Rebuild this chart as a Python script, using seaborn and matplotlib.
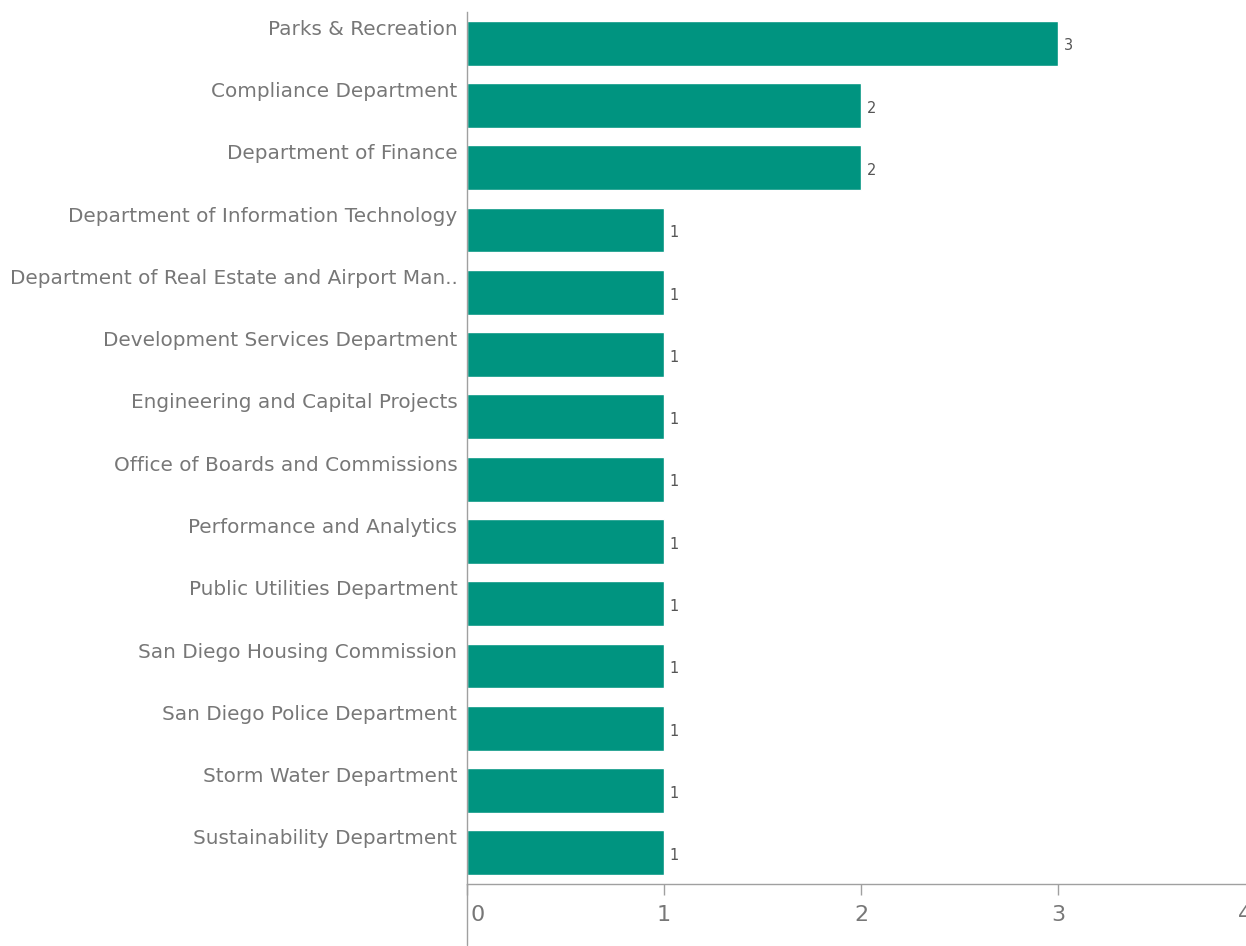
import matplotlib
matplotlib.use("Agg")
import matplotlib.pyplot as plt
import matplotlib.transforms as mtransforms
import seaborn as sns
import pandas as pd

departments = [
    "Parks & Recreation",
    "Compliance Department",
    "Department of Finance",
    "Department of Information Technology",
    "Department of Real Estate and Airport Man..",
    "Development Services Department",
    "Engineering and Capital Projects",
    "Office of Boards and Commissions",
    "Performance and Analytics",
    "Public Utilities Department",
    "San Diego Housing Commission",
    "San Diego Police Department",
    "Storm Water Department",
    "Sustainability Department",
]
counts = [3, 2, 2, 1, 1, 1, 1, 1, 1, 1, 1, 1, 1, 1]
x_ticks = [0, 1, 2, 3, 4]

df = pd.DataFrame({"dept": departments, "count": counts})

sns.set_style("white")
plt.rcParams["font.family"] = ["DejaVu Sans"]

W, H = 1246, 946
fig = plt.figure(figsize=(W / 100, H / 100), dpi=100)
ax_left = 467 / W
ax_right = 1255 / W
ax_bottom = (H - 884) / H
ax_top = (H - 12) / H
ax = fig.add_axes([ax_left, ax_bottom, ax_right - ax_left, ax_top - ax_bottom])

sns.barplot(data=df, y="dept", x="count", orient="h", color="#009480",
            saturation=1, width=0.72, ax=ax)

ax.set_xlim(0, 4)
ax.set_ylim(len(departments) - 0.5, -0.5)
ax.set_xlabel("")
ax.set_ylabel("")
ax.set_xticks(x_ticks)
ax.set_xticklabels([str(t) for t in x_ticks], fontsize=16, color="#777777")

for s in ["top", "right"]:
    ax.spines[s].set_visible(False)
for s in ["left", "bottom"]:
    ax.spines[s].set_color("#a0a0a0")
    ax.spines[s].set_linewidth(1.0)

ax.tick_params(axis="x", length=8, width=1, color="#a0a0a0", pad=7,
               direction="out", bottom=True)
ax.tick_params(axis="y", length=0, pad=7, labelsize=14.4, labelcolor="#777777")

# shift y tick labels upward so they align with top of bars
offset = mtransforms.ScaledTranslation(0, 16 / 100, fig.dpi_scale_trans)
for lbl in ax.get_yticklabels():
    lbl.set_transform(lbl.get_transform() + offset)

# first x tick label left-aligned, last one pulled inside the figure
xlbls = ax.get_xticklabels()
xlbls[0].set_ha("left")
xlbls[0].set_transform(xlbls[0].get_transform() +
                       mtransforms.ScaledTranslation(3 / 100, 0, fig.dpi_scale_trans))
xlbls[-1].set_transform(xlbls[-1].get_transform() +
                        mtransforms.ScaledTranslation(-10 / 100, 0, fig.dpi_scale_trans))

# extend left spine below x axis
ax.plot([0, 0], [0, -(945 - 884) / (884 - 12)], transform=ax.transAxes,
        color="#a0a0a0", lw=1.0, clip_on=False)

# value labels
for i, c in enumerate(counts):
    ax.annotate(str(c), xy=(c, i), xytext=(4, -2), textcoords="offset points",
                ha="left", va="center", fontsize=10.5, color="#555555")

fig.savefig("out.png", dpi=100)
